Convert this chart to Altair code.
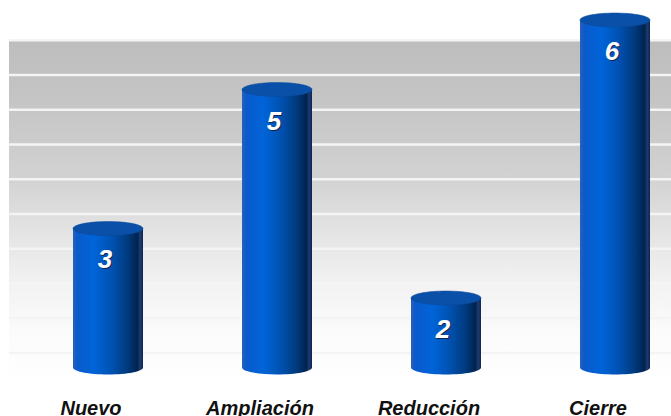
import altair as alt
import pandas as pd

categories = ["Nuevo", "Ampliación", "Reducción", "Cierre"]
values = [3, 5, 2, 6]
baseline = [1, 1, 1, 1]
grid_values = [5.71, 5.21, 4.71, 4.21, 3.71, 3.21, 2.71, 2.21, 1.71, 1.21]
wall_top = [5.71]
wall_bottom = [0.75]

df = pd.DataFrame({"cat": categories, "value": values, "base": baseline})
grid_df = pd.DataFrame({"g": grid_values})
wall_df = pd.DataFrame({"t": wall_top, "b": wall_bottom})

W, H = 662, 390
FONT = "Liberation Sans"

xscale = alt.Scale(domain=categories, range=[14.5, 690.5], paddingInner=0, paddingOuter=0)
yscale = alt.Scale(domain=[0.676, 6.288], zero=False, nice=False)

X = alt.X("cat:N", scale=xscale, sort=categories,
          axis=alt.Axis(title=None, labelAngle=0, domain=False, ticks=False, grid=False,
                        labelPadding=8, labelOffset=-17, labelFont=FONT, labelFontSize=20,
                        labelFontWeight="bold", labelFontStyle="italic", labelColor="#111111"))
Y = alt.Y("value:Q", scale=yscale, axis=None)

wall_grad = alt.Gradient(
    gradient="linear", x1=0, y1=0, x2=0, y2=1,
    stops=[alt.GradientStop(color="#BDBDBD", offset=0),
           alt.GradientStop(color="#C6C6C6", offset=0.2),
           alt.GradientStop(color="#D2D2D2", offset=0.4),
           alt.GradientStop(color="#E3E3E3", offset=0.55),
           alt.GradientStop(color="#F3F3F3", offset=0.72),
           alt.GradientStop(color="#FBFBFB", offset=0.85),
           alt.GradientStop(color="#FFFFFF", offset=1)])

body_grad = alt.Gradient(
    gradient="linear", x1=0, y1=0, x2=1, y2=0,
    stops=[alt.GradientStop(color="#2C60B8", offset=0),
           alt.GradientStop(color="#0A5ACB", offset=0.06),
           alt.GradientStop(color="#0064D8", offset=0.3),
           alt.GradientStop(color="#0052B2", offset=0.55),
           alt.GradientStop(color="#003A7E", offset=0.78),
           alt.GradientStop(color="#00234E", offset=0.92),
           alt.GradientStop(color="#1E3C70", offset=0.96),
           alt.GradientStop(color="#0A2550", offset=1)])

ellipse = ("M -1 0 C -1 -0.1105 -0.5523 -0.2 0 -0.2 C 0.5523 -0.2 1 -0.1105 1 0 "
           "C 1 0.1105 0.5523 0.2 0 0.2 C -0.5523 0.2 -1 0.1105 -1 0 Z")

base = alt.Chart(df)

wall = alt.Chart(wall_df).mark_rect(fill=wall_grad).encode(
    x=alt.value(0), x2=alt.value(W),
    y=alt.Y("t:Q", scale=yscale, axis=None), y2="b:Q")

grid = alt.Chart(grid_df).mark_rule(color="#F4F4F4", strokeWidth=2.5).encode(
    y=alt.Y("g:Q", scale=yscale, axis=None))

bottom = base.mark_point(shape=ellipse, size=4900, filled=True, fill=body_grad,
                         opacity=1, strokeWidth=0).encode(
    x=X, y=alt.Y("base:Q", scale=yscale, axis=None))

body = base.mark_bar(size=70, fill=body_grad).encode(
    x=X, y=Y, y2=alt.Y2("base:Q"))

top = base.mark_point(shape=ellipse, size=4900, filled=True, fill="#0B50A8",
                      opacity=1, stroke="#0A4898", strokeWidth=0.5).encode(x=X, y=Y)

shadow = base.mark_text(font=FONT, fontSize=26, fontWeight="bold", fontStyle="italic",
                        color="#1A2448", baseline="middle", dx=-2, dy=33).encode(
    x=X, y=Y, text="value:Q")

label = base.mark_text(font=FONT, fontSize=26, fontWeight="bold", fontStyle="italic",
                       color="#FFFFFF", baseline="middle", dx=-3, dy=32).encode(
    x=X, y=Y, text="value:Q")

chart = alt.layer(wall, grid, bottom, body, top, shadow, label).properties(
    width=W, height=H,
    autosize=alt.AutoSizeParams(type="none"),
    padding={"left": 9, "top": 0, "right": 0, "bottom": 26},
    background="#FFFFFF",
).configure_view(stroke=None)

chart.save("out.html", embed_options={"renderer": "svg", "actions": False})
